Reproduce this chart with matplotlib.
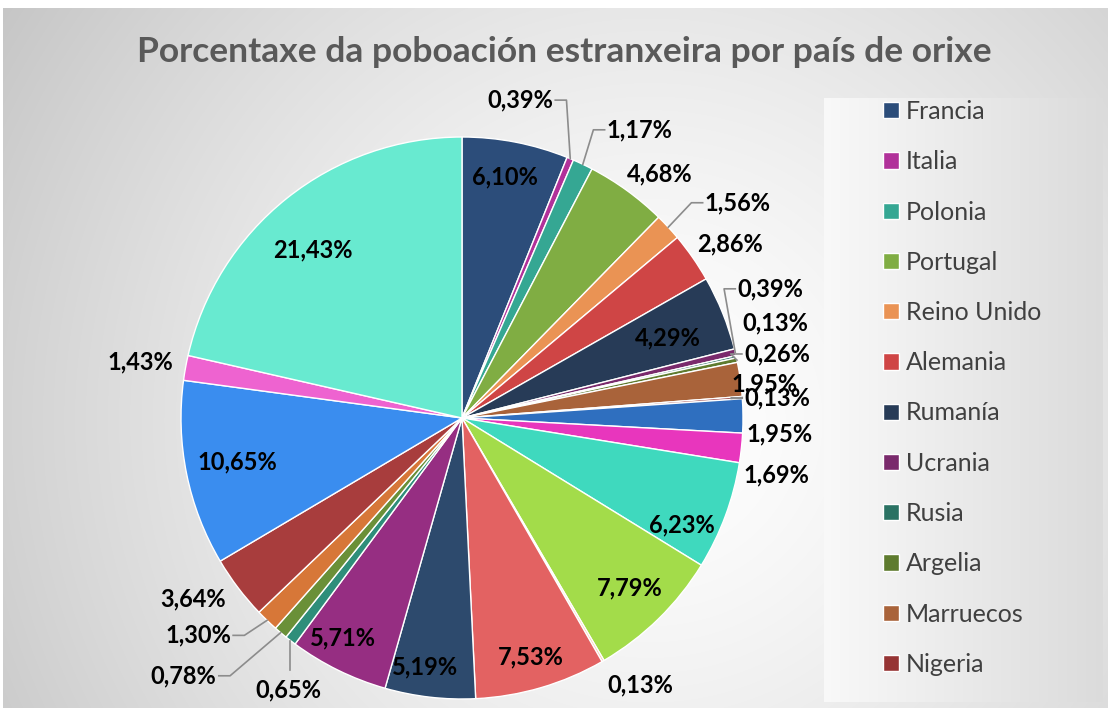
import numpy as np
import matplotlib
matplotlib.use("Agg")
import matplotlib.pyplot as plt

plt.rcParams['font.family'] = ['Lato', 'DejaVu Sans']

# datos (porcentaxes, en sentido horario dende arriba)
paises = ["Francia", "Italia", "Polonia", "Portugal", "Reino Unido", "Alemania",
          "Rumanía", "Ucrania", "Rusia", "Argelia", "Marruecos", "Nigeria",
          "Senegal", "Estados Unidos", "México", "Cuba", "Rep. Dominicana",
          "Venezuela", "Colombia", "Arxentina", "Perú", "Uruguai", "Paraguai",
          "Bolivia", "Brasil", "China", "Outros"]
porcentaxes = [6.10, 0.39, 1.17, 4.68, 1.56, 2.86, 4.29, 0.39, 0.13, 0.26, 1.95, 0.13,
               1.95, 1.69, 6.23, 7.79, 0.13, 7.53, 5.19, 5.71, 0.65, 0.78, 1.30,
               3.64, 10.65, 1.43, 21.43]
cores = ["#2c4d7a", "#b1319a", "#35a793", "#80ad43", "#ea9354", "#cf4545",
         "#273b57", "#7a2a6c", "#2a7263", "#5e7b2e", "#a9633a", "#963434",
         "#2f6fbf", "#e836bd", "#3fd9be", "#a3dc4a", "#f5c7a9", "#e36262",
         "#2d4a6d", "#962e82", "#2e8e7a", "#6a9038", "#d77738", "#a83d3d",
         "#3a8def", "#ee63d0", "#68ead0"]

# colocación das etiquetas: radio e desprazamento angular (graos)
lab_r = [0.87, 1.15, 1.205, 1.118, 1.245, 1.137, 0.786, 1.19, 1.164, 1.144, 1.085, 1.123,
         1.133, 1.139, 0.87, 0.85, 1.142, 0.885, 0.896, 0.89, 1.147, 1.35, 1.217,
         1.154, 0.816, 1.163, 0.80]
lab_da = [0.8, 12.3, -6.2, -3, -4.8, -1.8, -0.7, 9.2, 4.3, -0.4, -1.5, -0.6,
          -3.3, -4.2, -5.5, 0.3, 3.6, -0.3, -1.8, -2.2, 5.1, -7.0, -6.6,
          -3.2, -0.3, 0.4, 3.1]
leaders = {1: 'h', 2: 'h', 4: 'h', 7: 'h', 9: 'h', 11: 'h', 20: 'v', 21: 'h', 22: 'h'}

W, H = 1108, 708
fig = plt.figure(figsize=(W / 100, H / 100), dpi=100, facecolor='white')

# fondo con degradado radial
bg = fig.add_axes([0, 0, 1, 1])
bg.set_xlim(0, W)
bg.set_ylim(H, 0)
bg.axis('off')
yy, xx = np.mgrid[8:H, 3:W]
d = np.clip(np.hypot(xx - 650, yy - 420) / 760, 0, 1)
g = 1 - 0.22 * d ** 1.4
bg.imshow(np.dstack([g, g, g]), extent=[3, W, H, 8], aspect='auto', zorder=0)

# caixa da lenda
lx0, lx1, ly0, ly1 = 824, 1103, 98, 702
gx = np.linspace(0.975, 0.86, 200)
lg = np.tile(gx, (50, 1))
bg.imshow(np.dstack([lg, lg, lg]), extent=[lx0, lx1, ly1, ly0], aspect='auto', zorder=1)

fig.text(564 / W, 1 - 52 / H, "Porcentaxe da poboación estranxeira por país de orixe",
         ha='center', va='center', fontsize=25.5, fontweight='bold', color='#595959')

# pastel
cx, cy, R, k = 462, 418, 281, 1.45
ax = fig.add_axes([(cx - R * k) / W, (H - cy - R * k) / H, 2 * R * k / W, 2 * R * k / H])
wedges, _ = ax.pie(porcentaxes, colors=cores, startangle=90, counterclock=False,
                   radius=1, wedgeprops=dict(edgecolor='white', linewidth=1))
ax.set_xlim(-k, k)
ax.set_ylim(-k, k)
ax.axis('off')

hw = 0.125
for i, w in enumerate(wedges):
    mid = (w.theta1 + w.theta2) / 2
    a = np.deg2rad(mid + lab_da[i])
    tx, ty = lab_r[i] * np.cos(a), lab_r[i] * np.sin(a)
    txt = f"{porcentaxes[i]:.2f}%".replace('.', ',')
    ax.text(tx, ty, txt, ha='center', va='center', fontsize=17, fontweight='bold',
            color='black', clip_on=False)
    if i in leaders:
        m = np.deg2rad(mid)
        px, py = np.cos(m), np.sin(m)
        if leaders[i] == 'v':
            ax.plot([px, px], [py, ty + 0.07], color='#8c8c8c', lw=1.2, clip_on=False)
        else:
            s = 1 if tx > px else -1
            axx = tx - s * hw
            kx = axx - s * 0.04
            ax.plot([px, kx, axx], [py, ty, ty], color='#8c8c8c', lw=1.2, clip_on=False)

leg = fig.legend(wedges[:12], paises[:12], loc='upper left',
                 bbox_to_anchor=(873 / W, 1 - 90 / H), frameon=False,
                 fontsize=18, labelspacing=1.09, handlelength=0.62, handleheight=0.62,
                 handletextpad=0.3, borderaxespad=0)
for t in leg.get_texts():
    t.set_color('#404040')

fig.savefig("out.png", dpi=100, facecolor='white')
